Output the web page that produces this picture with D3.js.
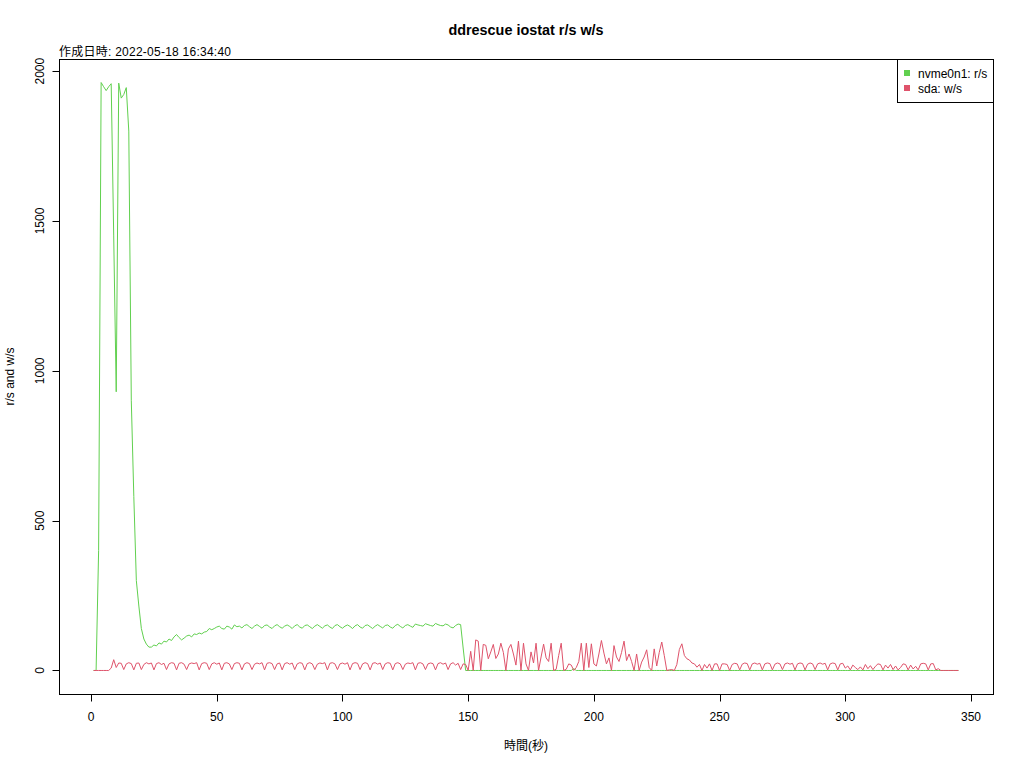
<!DOCTYPE html>
<html><head><meta charset="utf-8">
<script src="https://cdn.jsdelivr.net/npm/d3@7"></script>
<style>
body{margin:0;background:#fff;}
text{font-family:"Liberation Sans","Noto Sans CJK JP",sans-serif;}
</style></head>
<body><svg id="c" width="1024" height="768"></svg>
<script>
const title = "ddrescue iostat r/s w/s";
const subtitle = "作成日時: 2022-05-18 16:34:40";
const xLabel = "時間(秒)";
const yLabel = "r/s and w/s";
const seriesNames = ["nvme0n1: r/s", "sda: w/s"];
const seriesColors = ["#61D04F", "#DF536B"];
const xTicks = [0, 50, 100, 150, 200, 250, 300, 350];
const yTicks = [0, 500, 1000, 1500, 2000];
const seconds = d3.range(1, 346);

const nvmeRead = [
0,0,400,1962,1948,1935,1948,1958,1450,930,
1960,1910,1922,1945,1800,900,580,300,215,140,
105,88,78,78,85,82,92,88,98,95,
105,100,112,120,110,102,108,115,118,112,
122,120,125,122,128,130,140,136,140,145,
148,140,138,148,145,138,152,146,
148,142,150,153,146,140,148,153,147,141,
150,152,145,140,149,153,146,141,148,152,
147,140,149,153,145,141,150,152,146,140,
148,153,147,141,149,152,145,140,150,153,
146,141,148,152,147,140,149,153,145,141,
150,152,146,140,148,153,147,142,150,152,
145,141,150,154,147,142,150,153,148,144,
155,152,150,148,156,153,150,148,157,153,
150,149,155,152,145,142,150,155,153,75,
0,0,0,0,0,0,0,0,0,0,0,0,0,0,0,0,0,0,0,0,
0,0,0,0,0,0,0,0,0,0,0,0,0,0,0,0,0,0,0,0,
0,0,0,6,0,0,0,0,0,0,0,0,0,0,0,0,0,0,0,0,
0,0,0,0,0,0,0,0,0,0,0,0,0,0,0,0,0,0,0,0,
0,0,0,0,0,0,0,0,0,0,0,0,0,0,0,0,0,0,0,0,
0,0,0,0,0,0,0,0,0,0,0,0,0,0,0,0,0,0,0,0,
0,0,0,0,0,0,0,0,0,0,0,0,0,0,0,0,0,0,0,0,
0,0,0,0,0,0,0,0,0,0,0,0,0,0,0,0,0,0,0,0,
0,0,0,0,0,0,0,0,0,0,0,0,0,0,0,0,0,0,0,0,
0,0,0,0,0,0,0,0,0,0,0,0,0,0,0,0,0
];

const sdaWrite = [
0,0,0,0,0,0,0,8,36,10,25,
24,3,22,26,23,2,24,25,3,20,
26,22,25,2,23,26,20,24,3,22,
26,24,2,24,26,21,3,22,25,23,
26,2,23,26,24,3,22,26,21,25,
2,24,26,22,3,23,26,24,2,22,
26,23,3,21,25,22,26,2,24,26,
23,3,22,25,2,23,26,21,25,3,
22,26,24,2,23,26,22,3,21,25,
23,26,2,24,26,22,3,22,25,21,
26,2,23,26,24,3,22,26,23,2,
24,26,21,25,3,22,26,24,2,23,
26,22,3,21,25,23,26,2,24,26,
22,3,22,25,23,2,23,26,21,25,
3,22,26,18,24,3,22,20,0,
64,0,102,98,0,87,84,39,62,87,
40,55,91,60,0,72,87,55,18,98,
0,91,22,0,62,25,91,0,45,88,
42,30,91,0,4,50,91,0,4,22,
18,0,10,30,91,0,91,10,89,22,
15,55,100,58,22,42,0,83,45,30,
60,98,33,55,30,0,55,0,28,45,
69,10,0,72,15,60,95,50,0,2,
3,0,20,70,89,50,39,35,25,22,
11,20,0,20,8,22,0,22,22,0,
22,22,20,0,20,24,22,2,21,25,
23,2,22,25,21,24,2,22,25,23,
2,21,25,22,3,22,25,21,24,2,
22,25,23,2,21,25,22,3,22,25,
21,24,2,22,25,23,2,22,24,8,
15,2,18,10,3,12,2,20,6,16,
3,14,22,20,2,18,8,20,3,15,
2,10,22,20,2,18,5,14,2,22,
24,22,2,22,23,2,6,0,0,0,
0,0,0,0,0
];

const svg = d3.select("#c");
const L = 59, R = 993, T = 59, B = 694;
const xMin = d3.min(seconds), xMax = d3.max(seconds);
const yMax = d3.max(nvmeRead.concat(sdaWrite));
const xPad = (xMax - xMin) * 0.04, yPad = yMax * 0.04;
const x = d3.scaleLinear().domain([xMin - xPad, xMax + xPad]).range([L, R]);
const y = d3.scaleLinear().domain([0 - yPad, yMax + yPad]).range([B, T]);

// lines
const series = [nvmeRead, sdaWrite];
series.forEach((vals, k) => {
  const line = d3.line().x((d, i) => x(seconds[i])).y(d => y(d));
  svg.append("path").datum(vals).attr("d", line)
    .attr("fill", "none").attr("stroke", seriesColors[k]).attr("stroke-width", 1);
});

// box
svg.append("rect").attr("x", L + 0.5).attr("y", T + 0.5).attr("width", R - L).attr("height", B - T)
  .attr("fill", "none").attr("stroke", "#000").attr("stroke-width", 1);

// x axis (R style)
const xg = svg.append("g").attr("transform", `translate(0,${B + 0.5})`);
xg.append("line").attr("x1", x(xTicks[0])).attr("x2", x(xTicks[xTicks.length - 1])).attr("stroke", "#000");
xTicks.forEach(t => {
  xg.append("line").attr("x1", Math.round(x(t)) + 0.5).attr("x2", Math.round(x(t)) + 0.5).attr("y1", 0).attr("y2", 7).attr("stroke", "#000");
  xg.append("text").attr("x", x(t)).attr("y", 26).attr("text-anchor", "middle").attr("font-size", 12).text(t);
});
// y axis
const yg = svg.append("g").attr("transform", `translate(${L + 0.5},0)`);
yg.append("line").attr("y1", y(yTicks[0])).attr("y2", y(yTicks[yTicks.length - 1])).attr("stroke", "#000");
yTicks.forEach(t => {
  yg.append("line").attr("y1", Math.round(y(t)) + 0.5).attr("y2", Math.round(y(t)) + 0.5).attr("x1", 0).attr("x2", -7).attr("stroke", "#000");
  yg.append("text").attr("transform", `translate(-16,${y(t)}) rotate(-90)`).attr("text-anchor", "middle").attr("font-size", 12).text(t);
});

// titles
svg.append("text").attr("x", (L + R) / 2).attr("y", 35).attr("text-anchor", "middle")
  .attr("font-size", 14.4).attr("font-weight", "bold").text(title);
svg.append("text").attr("x", L).attr("y", 56).attr("font-size", 12)
  .attr("textLength", 172).attr("lengthAdjust", "spacing").text(subtitle);
svg.append("text").attr("x", (L + R) / 2).attr("y", 750).attr("text-anchor", "middle").attr("font-size", 12).text(xLabel);
svg.append("text").attr("transform", `translate(14,${(T + B) / 2}) rotate(-90)`).attr("text-anchor", "middle").attr("font-size", 12).text(yLabel);

// legend
const lg = svg.append("g");
lg.append("rect").attr("x", 897.5).attr("y", T + 0.5).attr("width", R - 897).attr("height", 43)
  .attr("fill", "#fff").attr("stroke", "#000");
seriesNames.forEach((n, k) => {
  const cy = 73 + k * 15;
  lg.append("rect").attr("x", 904).attr("y", cy - 3).attr("width", 6).attr("height", 6).attr("fill", seriesColors[k]);
  lg.append("text").attr("x", 918).attr("y", cy + 4.5).attr("font-size", 12).text(n);
});
</script></body></html>
